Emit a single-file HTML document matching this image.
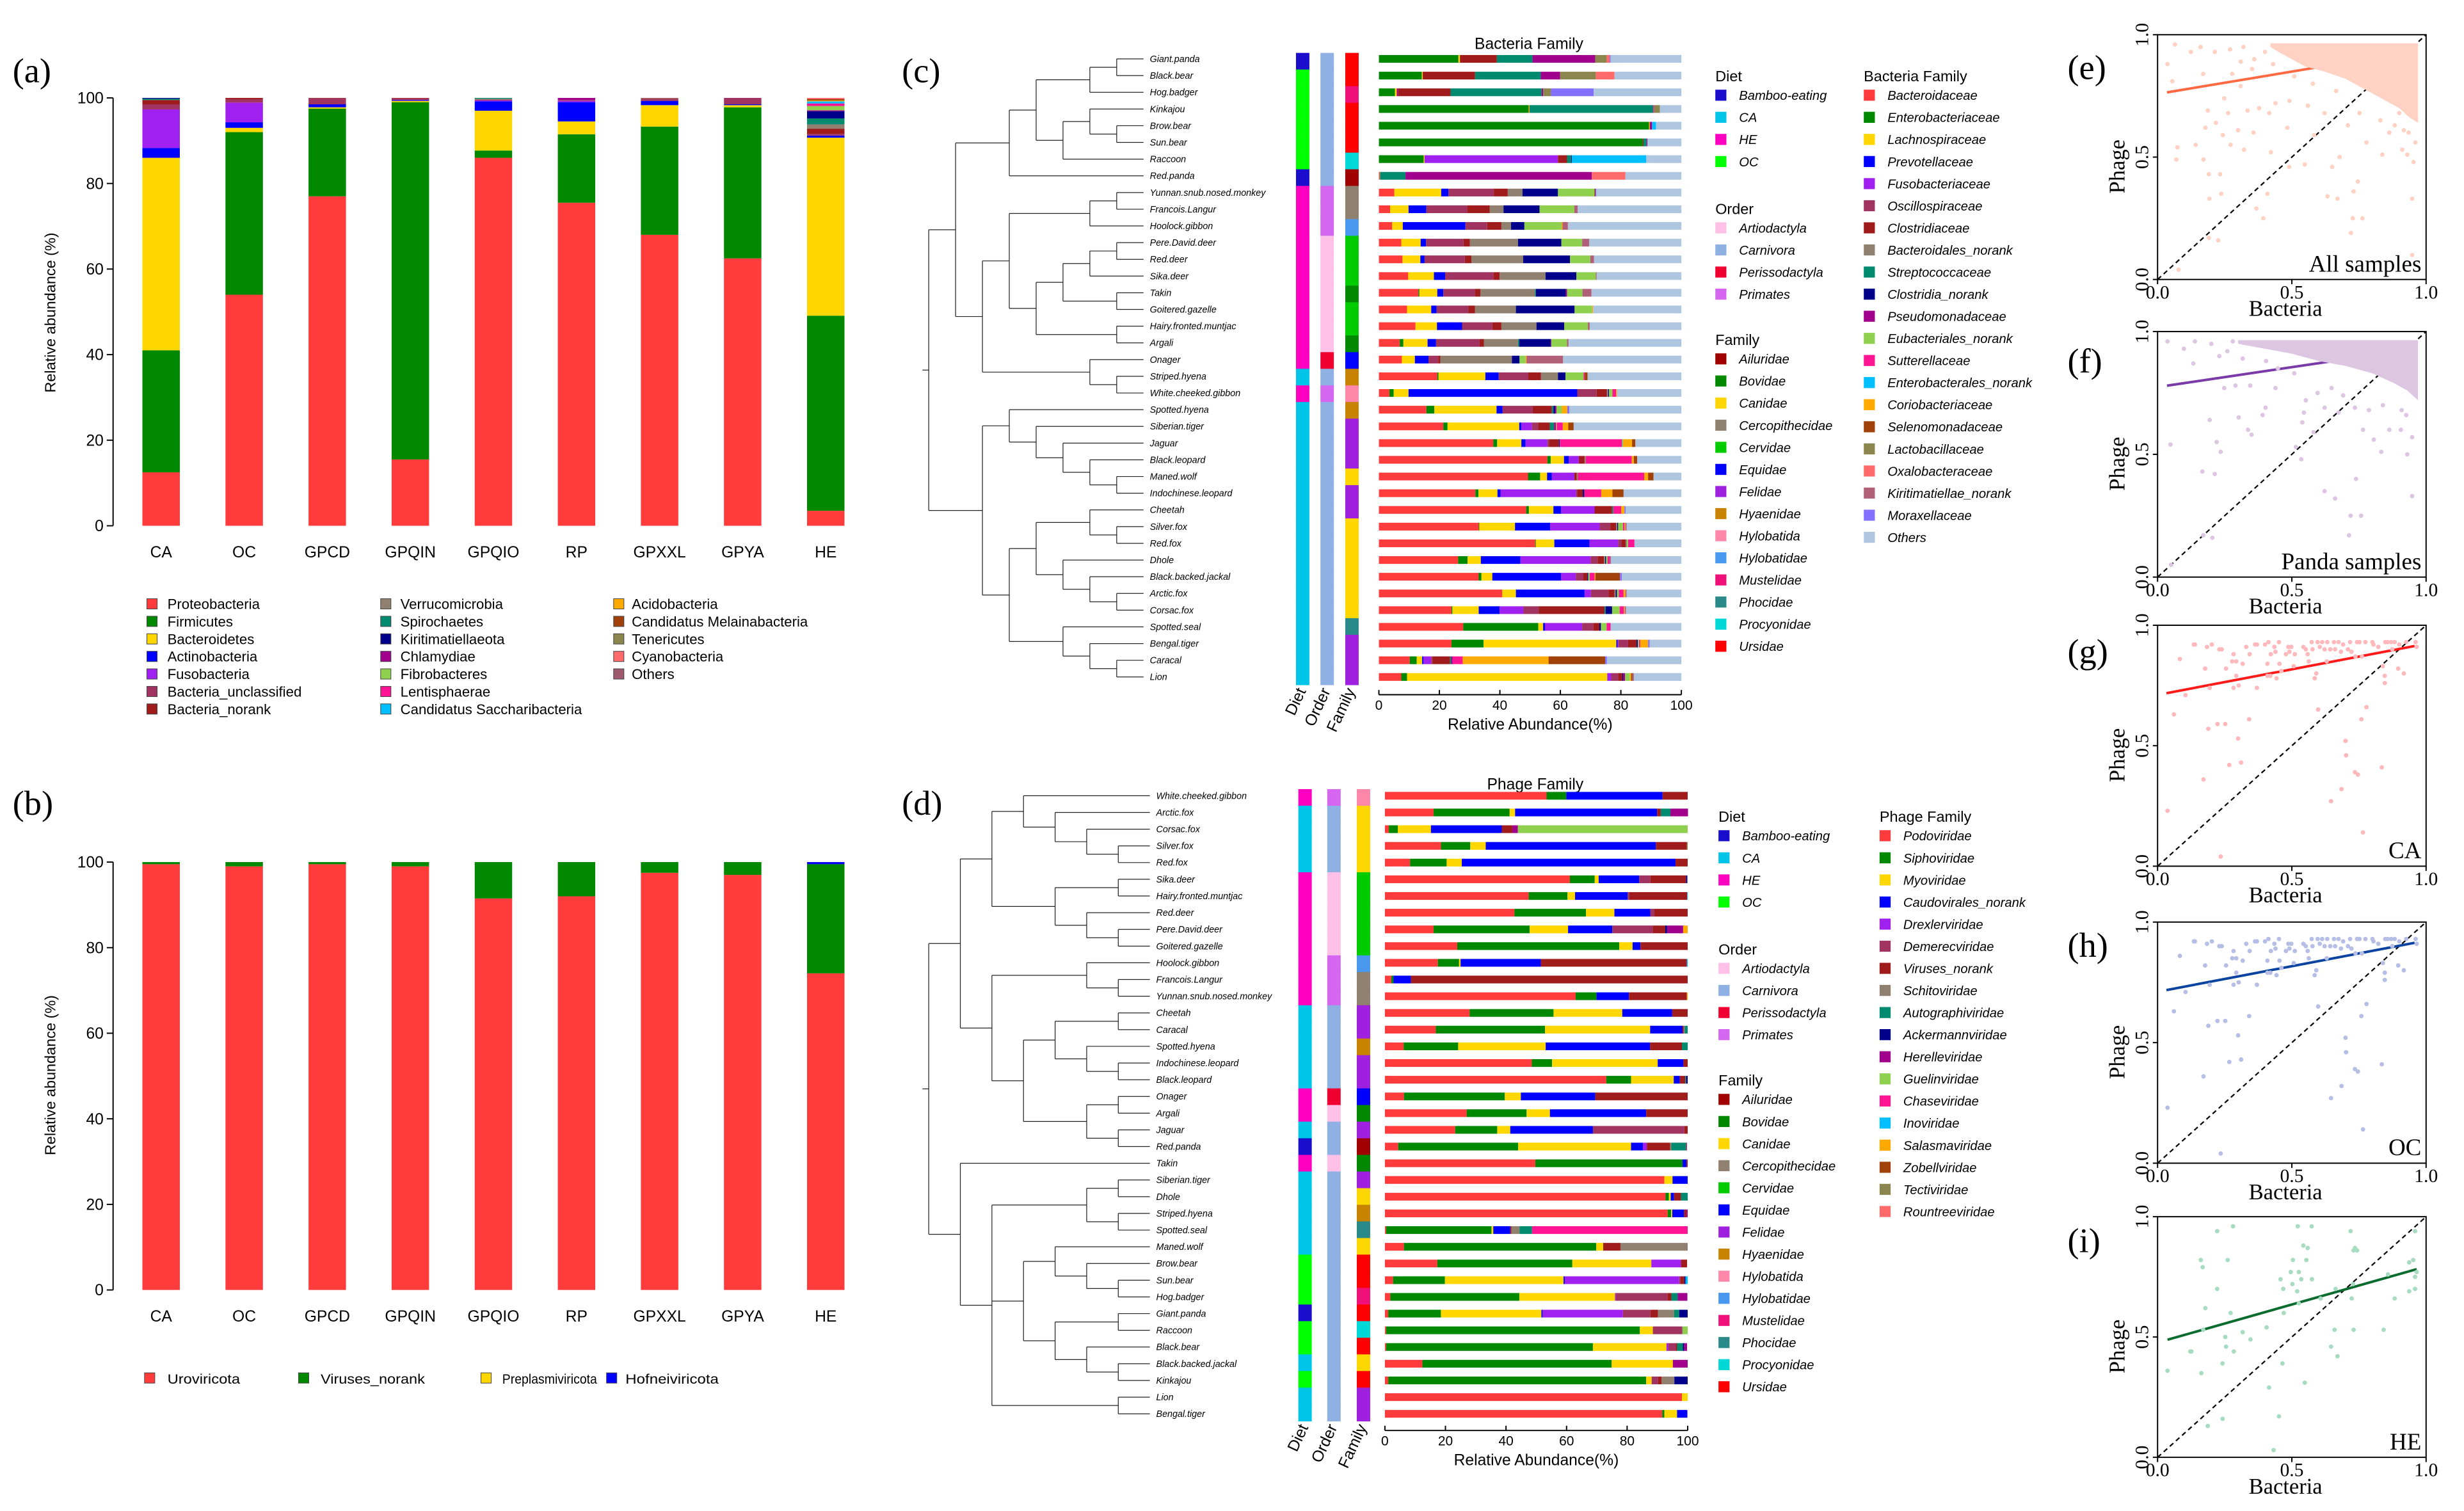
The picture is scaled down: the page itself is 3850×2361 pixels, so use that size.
<!DOCTYPE html>
<html><head><meta charset="utf-8"><title>Bacteria and phage composition figure</title>
<style>
html,body{margin:0;padding:0;background:#fff;}
svg{display:block;}
text{font-family:"Liberation Sans",sans-serif;}
.serif{font-family:"Liberation Serif",serif;}
</style></head>
<body>
<svg id="fig" xmlns="http://www.w3.org/2000/svg" width="3850" height="2361" viewBox="0 0 1560 957" preserveAspectRatio="none">
<rect x="0" y="0" width="1560" height="957" fill="#ffffff"/>
<text class="serif" x="8" y="52" font-size="22">(a)</text>
<text class="serif" x="8" y="516" font-size="22">(b)</text>
<text class="serif" x="571" y="52" font-size="22">(c)</text>
<text class="serif" x="571" y="516" font-size="22">(d)</text>
<text class="serif" x="1309" y="50" font-size="22">(e)</text>
<text class="serif" x="1309" y="236" font-size="22">(f)</text>
<text class="serif" x="1309" y="420" font-size="22">(g)</text>
<text class="serif" x="1309" y="606" font-size="22">(h)</text>
<text class="serif" x="1309" y="793" font-size="22">(i)</text>
<text x="968" y="31" font-size="10" text-anchor="middle">Bacteria Family</text>
<text x="972" y="500" font-size="10" text-anchor="middle">Phage Family</text>
<g id="gA"></g>
<g id="gB"></g>
<g id="gC"></g>
<g id="gD"></g>
<g id="gS"></g>
</svg>
<script>
// ---------- Panel (a) data ----------
const groupsA = ["CA","OC","GPCD","GPQIN","GPQIO","RP","GPXXL","GPYA","HE"];
const phylaA = ["Proteobacteria","Firmicutes","Bacteroidetes","Actinobacteria","Fusobacteria","Bacteria_unclassified","Bacteria_norank","Verrucomicrobia","Spirochaetes","Kiritimatiellaeota","Chlamydiae","Fibrobacteres","Lentisphaerae","Candidatus Saccharibacteria","Acidobacteria","Candidatus Melainabacteria","Tenericutes","Cyanobacteria","Others"];
const phylaColors = ["#ff3b3b","#008800","#ffd700","#0000ff","#a020f0","#a0335f","#a01c1c","#908070","#008b70","#00008b","#a0008b","#8fd14f","#ff1493","#00bfff","#ffaa00","#a0410a","#8b864e","#ff6a6a","#a05a70"];
const abundCA    = [12.5,28.5,45,2.3,9,1.2,1,0,0.3,0.2,0,0,0,0,0,0,0,0,0];
const abundOC    = [54,38,1,1.3,4.6,0.8,0.3,0,0,0,0,0,0,0,0,0,0,0,0];
const abundGPCD  = [77,20.5,0.3,0.7,0,1.4,0.1,0,0,0,0,0,0,0,0,0,0,0,0];
const abundGPQIN = [15.5,83.5,0.3,0.2,0,0.4,0.1,0,0,0,0,0,0,0,0,0,0,0,0];
const abundGPQIO = [86,1.7,9.3,2.2,0.2,0.2,0,0.2,0.2,0,0,0,0,0,0,0,0,0,0];
const abundRP    = [75.5,16,3,4.5,0.3,0.2,0,0,0,0,0.5,0,0,0,0,0,0,0,0];
const abundGPXXL = [68,25.3,5,1,0,0.4,0.1,0,0,0,0,0,0,0,0,0,0,0,0.2];
const abundGPYA  = [62.5,35.3,0.5,0.2,0,1.5,0,0,0,0,0,0,0,0,0,0,0,0,0];
const abundHE    = [3.5,45.6,41.6,0.5,0,0.4,1.2,1,1.4,1.7,0.2,1,0.6,0.5,0.2,0.3,0,0.3,0];
const abundA = [abundCA,abundOC,abundGPCD,abundGPQIN,abundGPQIO,abundRP,abundGPXXL,abundGPYA,abundHE];
const ticksAB = [0,20,40,60,80,100];

// ---------- Panel (b) data ----------
const viralPhyla = ["Uroviricota","Viruses_norank","Preplasmiviricota","Hofneiviricota"];
const viralColors = ["#ff3b3b","#008800","#ffd700","#0000ff"];
const uroviricota = [99.5,99,99.5,99,91.5,92,97.5,97,74];
const virusesNorank = [0.5,1,0.5,1,8.5,8,2.5,3,25.5];
const preplasmiviricota = [0,0,0,0,0,0,0,0,0];
const hofneiviricota = [0,0,0,0,0,0,0,0,0.5];

// ---------- Panel (c) data ----------
const speciesC = ["Giant.panda","Black.bear","Hog.badger","Kinkajou","Brow.bear","Sun.bear","Raccoon","Red.panda","Yunnan.snub.nosed.monkey","Francois.Langur","Hoolock.gibbon","Pere.David.deer","Red.deer","Sika.deer","Takin","Goitered.gazelle","Hairy.fronted.muntjac","Argali","Onager","Striped.hyena","White.cheeked.gibbon","Spotted.hyena","Siberian.tiger","Jaguar","Black.leopard","Maned.wolf","Indochinese.leopard","Cheetah","Silver.fox","Red.fox","Dhole","Black.backed.jackal","Arctic.fox","Corsac.fox","Spotted.seal","Bengal.tiger","Caracal","Lion"];
const bactFamilies = ["Bacteroidaceae","Enterobacteriaceae","Lachnospiraceae","Prevotellaceae","Fusobacteriaceae","Oscillospiraceae","Clostridiaceae","Bacteroidales_norank","Streptococcaceae","Clostridia_norank","Pseudomonadaceae","Eubacteriales_norank","Sutterellaceae","Enterobacterales_norank","Coriobacteriaceae","Selenomonadaceae","Lactobacillaceae","Oxalobacteraceae","Kiritimatiellae_norank","Moraxellaceae","Others"];
const bactColors = ["#ff3b3b","#008800","#ffd700","#0000ff","#a020f0","#a0335f","#a01c1c","#908070","#008b70","#00008b","#a0008b","#8fd14f","#ff1493","#00bfff","#ffaa00","#a0410a","#8b864e","#ff6a6a","#b06078","#8470ff","#aec6e0"];
const bactRows = [
[[1,26.3],[2,.5],[6,12.2],[8,11.8],[10,20.7],[16,3.8],[17,1],[19,.3]],
[[1,14.2],[2,.3],[6,17.3],[8,21.7],[10,6.4],[16,11.8],[17,6.2]],
[[1,5.3],[2,.6],[10,.5],[6,17.3],[8,30.1],[10,.5],[16,2.6],[19,14.1]],
[[1,49.5],[14,.3],[8,40.9],[12,.3],[16,1.9]],
[[1,89.3],[14,.3],[10,.7],[13,1.3]],
[[1,87.2],[6,.3],[8,1],[10,.3]],
[[1,14.8],[2,.3],[4,44.1],[6,3],[8,1.4],[9,.2],[13,24.6]],
[[0,.2],[16,.3],[8,8.3],[10,61.6],[17,11.1]],
[[0,5.1],[2,15.5],[3,2.4],[5,15],[6,4.6],[7,4.9],[9,11.7],[11,12.1],[6,.3],[19,.3]],
[[0,3.7],[2,6.1],[3,5.9],[5,13.6],[6,7.3],[7,4.6],[9,11.9],[11,11.5],[18,1.1]],
[[0,4.4],[2,3.5],[3,20.7],[5,7.2],[6,4.7],[7,3.2],[9,4.4],[11,12.3],[14,.3],[18,1.8]],
[[0,7.4],[2,6.4],[3,1.8],[5,12.4],[6,2.1],[7,15.9],[9,14.3],[11,6.9],[18,2.3]],
[[0,7.8],[2,5.9],[3,1.4],[5,13.3],[6,2.2],[7,17.1],[9,15.5],[11,6.7],[18,1.2]],
[[0,9.7],[2,8.5],[3,3.7],[5,16],[6,2],[7,15.2],[9,10.2],[11,6.4],[18,.3]],
[[0,13.1],[1,.3],[2,5.9],[3,2],[5,10.4],[6,1.9],[7,18],[8,.3],[9,9.9],[10,.4],[11,5.1],[18,3]],
[[0,9.3],[2,8],[3,1.8],[5,10.5],[6,2.2],[7,13.5],[9,19.4],[11,5.8],[14,.3]],
[[0,12.1],[2,7.1],[3,8.3],[5,10],[6,3],[7,11.6],[9,9.2],[11,7.8],[18,.6]],
[[0,6.9],[1,1.2],[2,8],[3,2.8],[5,14.4],[6,1.4],[7,11.3],[8,.4],[9,10.4],[10,.2],[11,5.2],[18,.5]],
[[0,7.6],[2,4.3],[3,4.5],[5,3.2],[6,.7],[7,23.7],[9,2.5],[11,2],[14,.3],[18,12.1]],
[[0,19.3],[1,.4],[2,15.5],[3,4.4],[5,9.8],[6,4.2],[7,5.6],[9,2.5],[11,6],[12,.4],[15,.9]],
[[0,3.5],[1,1.4],[2,4.9],[3,55.8],[5,6.4],[6,3.4],[7,.4],[9,.3],[11,1.1],[12,1.2],[14,.3]],
[[0,15.7],[1,2.6],[2,20.6],[3,2],[5,9.9],[6,6.4],[8,.5],[9,.6],[10,.4],[11,1.8],[14,1.8],[19,.7]],
[[0,21.3],[1,1.4],[2,23.7],[3,.7],[4,3.5],[5,2],[6,3.9],[8,1.4],[10,.6],[11,.3],[12,2],[14,1.8],[15,1.8]],
[[0,37.8],[1,1.3],[2,8],[3,1.4],[4,7.2],[5,.6],[6,3.2],[9,.3],[12,20.5],[13,.2],[14,3.2],[15,1.1]],
[[0,55.7],[1,1.1],[2,4.4],[3,1.6],[4,3.3],[6,1.9],[7,.4],[12,15.2],[14,.7],[15,1.1]],
[[0,49.3],[1,4],[2,2.3],[3,1.6],[4,7.4],[6,.8],[7,.4],[12,21.9],[14,1.3],[15,1.8]],
[[0,31.9],[1,1],[2,6.3],[3,1],[4,25],[5,.4],[6,1.8],[9,.5],[12,5.6],[14,3.7],[15,3.7]],
[[0,48.7],[1,.9],[2,8.1],[3,2.5],[4,11.1],[6,5.8],[8,.4],[12,2.6],[14,1.1],[19,.4]],
[[0,33],[1,.2],[2,11.8],[3,11.6],[4,16.4],[5,3.5],[6,1.9],[7,.4],[9,.3],[11,1.6],[12,.5],[14,.3],[18,.4]],
[[0,51.7],[1,.2],[2,6.1],[3,11.6],[4,9.5],[5,1.1],[6,1.4],[7,.4],[11,.4],[12,2.1]],
[[0,26.2],[1,3.1],[2,4.4],[3,13.1],[4,23.2],[5,2.3],[6,2.1],[7,.4],[9,.3],[11,.5],[12,.7],[18,.4]],
[[0,33],[1,.9],[2,3.6],[3,22.7],[4,4.9],[5,2.5],[6,1.3],[9,.3],[11,.5],[12,1.6],[14,.3],[15,8.1],[19,.6]],
[[0,40.8],[2,4.5],[3,22.7],[4,2.1],[5,5.8],[6,2],[7,.4],[9,.4],[11,.6],[12,1.6],[14,.6],[18,.4]],
[[0,24],[1,.3],[2,8.7],[3,6.9],[4,7.9],[5,5.1],[6,21.7],[8,.4],[9,2.1],[11,2.5],[12,1.4],[14,.3],[18,.4]],
[[0,27.9],[1,24.8],[2,1.6],[3,.6],[4,12.3],[5,3.7],[6,2],[9,.5],[11,1.9],[12,1.3]],
[[0,24],[1,10.6],[2,43.9],[3,.4],[4,.3],[5,3.2],[6,2.8],[9,.4],[11,.4],[12,.4],[14,2.6],[19,.5]],
[[0,10.2],[1,2.3],[2,1.8],[3,.4],[4,2.6],[5,.4],[6,5.8],[8,.4],[10,.5],[12,3.3],[14,28.4],[15,18.7],[19,.6]],
[[0,7.4],[1,1.9],[2,66.2],[4,1.3],[5,2.3],[6,1.4],[9,.3],[10,.6],[11,1.6],[14,.4],[15,.4],[18,.5]]
];
const dietC   = [0,3,3,3,3,3,3,0,2,2,2,2,2,2,2,2,2,2,2,1,2,1,1,1,1,1,1,1,1,1,1,1,1,1,1,1,1,1];
const orderC  = [1,1,1,1,1,1,1,1,3,3,3,0,0,0,0,0,0,0,2,1,3,1,1,1,1,1,1,1,1,1,1,1,1,1,1,1,1,1];
const familyC = [13,13,10,13,13,13,12,0,3,3,9,4,4,4,1,4,4,1,5,7,8,7,6,6,6,2,6,6,2,2,2,2,2,2,11,6,6,6];
const treeC = [[[[[[0,1],2],[[3,[4,5]],6]],7],[[[[8,9],10],[[[[11,12],13],[14,15]],[16,17]]],[18,[19,20]]]],[[21,[22,[23,[24,[25,26]]]]],[[[27,[28,29]],[30,[31,[32,33]]]],[34,[35,[36,37]]]]]];

// ---------- Panel (d) data ----------
const speciesD = ["White.cheeked.gibbon","Arctic.fox","Corsac.fox","Silver.fox","Red.fox","Sika.deer","Hairy.fronted.muntjac","Red.deer","Pere.David.deer","Goitered.gazelle","Hoolock.gibbon","Francois.Langur","Yunnan.snub.nosed.monkey","Cheetah","Caracal","Spotted.hyena","Indochinese.leopard","Black.leopard","Onager","Argali","Jaguar","Red.panda","Takin","Siberian.tiger","Dhole","Striped.hyena","Spotted.seal","Maned.wolf","Brow.bear","Sun.bear","Hog.badger","Giant.panda","Raccoon","Black.bear","Black.backed.jackal","Kinkajou","Lion","Bengal.tiger"];
const phageFamilies = ["Podoviridae","Siphoviridae","Myoviridae","Caudovirales_norank","Drexlerviridae","Demerecviridae","Viruses_norank","Schitoviridae","Autographiviridae","Ackermannviridae","Herelleviridae","Guelinviridae","Chaseviridae","Inoviridae","Salasmaviridae","Zobellviridae","Tectiviridae","Rountreeviridae"];
const phageColors = ["#ff3b3b","#008800","#ffd700","#0000ff","#a020f0","#a0335f","#a01c1c","#908070","#008b70","#00008b","#a0008b","#8fd14f","#ff1493","#00bfff","#ffaa00","#a0410a","#8b864e","#ff6a6a"];
const phageRows = [
[[0,53.4],[1,6.5],[3,31.8],[6,8.3]],
[[0,16.1],[1,25.1],[2,1.8],[3,46.9],[6,1.2],[8,3.2],[10,5.8]],
[[0,1.3],[1,3],[2,10.9],[3,23.4],[6,3.5],[10,1.8],[11,56.1]],
[[0,18.5],[1,9.7],[2,5.1],[3,56.2],[6,10.2],[16,.3]],
[[0,8.3],[1,12.1],[2,5],[3,70.6],[6,4]],
[[0,61.1],[1,8.2],[2,1.3],[3,13.4],[5,3.7],[6,11.8],[9,.4]],
[[0,47.5],[1,12.8],[2,2.5],[3,17.4],[5,.4],[6,19.2],[13,.2]],
[[0,42.8],[1,23.6],[2,9.4],[3,11.9],[5,1.3],[6,11]],
[[0,16.1],[1,31.7],[2,12.7],[3,14.6],[5,13.4],[6,4.1],[9,.6],[10,5.3],[14,1.5]],
[[0,23.9],[1,53.5],[2,4.4],[3,2.6],[6,15.6]],
[[0,17.5],[1,7],[2,.5],[3,26.5],[6,48.2],[13,.3]],
[[0,2.1],[1,.7],[3,5.8],[6,91.4]],
[[0,63],[1,6.9],[3,10.7],[6,19.1],[14,.3]],
[[0,28],[1,27.7],[2,22.7],[3,16.5],[6,5.1]],
[[0,16.8],[1,36.1],[2,34.7],[3,10.7],[6,.4],[7,.3],[8,1]],
[[0,6.2],[1,18],[2,28.9],[3,34.5],[6,10.5],[8,1.9]],
[[0,48.5],[1,6.7],[2,34.9],[3,8.5],[6,1.4]],
[[0,73.1],[1,8.2],[2,14.1],[3,2],[6,1.8],[8,.3],[9,.5]],
[[0,6.3],[1,33.3],[2,5.3],[3,24.6],[6,30.5]],
[[0,27],[1,19.8],[2,7.7],[3,31.8],[6,13.7]],
[[0,23.2],[1,13.9],[2,4.3],[3,27.3],[5,30.2],[6,1.1]],
[[0,4.4],[1,39.6],[2,37.3],[3,3.9],[4,1.3],[6,7.7],[7,.4],[8,4.9],[5,.3]],
[[0,49.7],[1,48.6],[3,1.3],[6,.4]],
[[0,92.3],[2,2.7],[3,5]],
[[0,92.7],[1,1.1],[2,.6],[3,1.1],[6,2.3],[8,2.2]],
[[0,93.4],[1,1.1],[2,.4],[3,3.9],[6,.8],[10,.4]],
[[0,.4],[1,34.8],[2,.6],[3,5.6],[6,.4],[7,2.7],[8,4.1],[12,51.4]],
[[0,6.3],[1,63.5],[2,2.3],[6,5.7],[7,22.2]],
[[0,17.3],[1,44.6],[2,26.1],[4,9.8],[6,2]],
[[0,2.7],[1,17.1],[2,39.2],[3,.4],[4,37.8],[5,.4],[6,1.3],[9,.4],[13,.7]],
[[0,1.8],[1,42.6],[2,31.6],[4,.3],[5,17],[6,1.3],[8,2.1],[10,3.2]],
[[0,1.1],[1,17.4],[2,33.2],[3,.4],[4,26.5],[5,9.1],[6,2.5],[7,5.3],[8,1.7],[9,2.8]],
[[0,.4],[1,83.8],[2,4.3],[5,9.6],[7,.3],[11,1.6]],
[[0,.4],[1,68.3],[2,24.3],[4,.6],[5,2.5],[6,.4],[8,1.9],[9,.4],[10,1]],
[[0,12.4],[1,62.5],[2,20.2],[10,4.9]],
[[0,1.1],[1,85.2],[2,1.8],[5,2.1],[6,1.2],[7,4.2],[9,4.4]],
[[0,98.1],[2,1.9]],
[[0,91.6],[1,.7],[2,4.2],[3,3.4]]
];
const dietD   = [2,1,1,1,1,2,2,2,2,2,2,2,2,1,1,1,1,1,2,2,1,0,2,1,1,1,1,1,3,3,3,0,3,3,1,3,1,1];
const orderD  = [3,1,1,1,1,0,0,0,0,0,3,3,3,1,1,1,1,1,2,0,1,1,0,1,1,1,1,1,1,1,1,1,1,1,1,1,1,1];
const familyD = [8,2,2,2,2,4,4,4,4,4,9,3,3,6,6,7,6,6,5,1,6,0,1,6,2,7,11,2,13,13,10,13,12,13,2,13,6,6];
const treeD = [[[[0,[1,[2,[3,4]]]],[[5,6],[7,[8,9]]]],[[10,[11,12]],[[[13,14],[15,[16,17]]],[[18,19],[20,21]]]]],[22,[[[23,24],[25,26]],[[27,[28,[29,30]]],[[31,32],[33,[34,35]]]],[36,37]]]];

// ---------- shared metadata legends ----------
const dietNames = ["Bamboo-eating","CA","HE","OC"];
const dietColors = ["#1a0dcc","#00c4e8","#ff00c0","#00ff00"];
const orderNames = ["Artiodactyla","Carnivora","Perissodactyla","Primates"];
const orderColors = ["#ffc0e8","#8fb0e3","#f00030","#d466f0"];
const hostFamilies = ["Ailuridae","Bovidae","Canidae","Cercopithecidae","Cervidae","Equidae","Felidae","Hyaenidae","Hylobatida","Hylobatidae","Mustelidae","Phocidae","Procyonidae","Ursidae"];
const hostColors = ["#a00000","#008800","#ffd700","#908070","#00cc00","#0000ff","#a020e0","#c88400","#ff88aa","#4898f0","#f0107a","#2a8a8a","#00d8d8","#ff0000"];
const ticksCD = [0,20,40,60,80,100];

// ---------- scatter data (bacteria, phage) ----------
const ePoints = [[.037,.88],[.065,.96],[.055,.81],[.124,.93],[.074,.54],[.07,.49],[.142,.55],[.178,.62],[.187,.69],[.217,.64],[.171,.49],[.191,.43],[.233,.43],[.237,.35],[.193,.33],[.191,.17],[.226,.16],[.078,.04],[.243,.59],[.272,.55],[.263,.68],[.3,.61],[.322,.53],[.335,.69],[.357,.6],[.368,.29],[.394,.25],[.409,.35],[.422,.52],[.416,.68],[.483,.62],[.49,.46],[.548,.47],[.583,.59],[.633,.34],[.65,.46],[.67,.33],[.678,.5],[.72,.19],[.727,.25],[.763,.25],[.746,.4],[.73,.36],[.837,.51],[.911,.53],[.93,.51],[.948,.33],[.948,.1],[.953,.48],[.96,.56],[.917,.61],[.863,.6],[.778,.56],[.709,.63],[.622,.68],[.56,.71],[.491,.73],[.439,.72],[.378,.7],[.309,.79],[.248,.74],[.278,.84],[.352,.86],[.17,.84],[.213,.93],[.27,.94],[.4,.93],[.509,.83],[.578,.8],[.665,.77],[.752,.68],[.83,.65],[.883,.63],[.935,.6],[.9,.68],[.16,.95],[.32,.95],[.36,.9],[.43,.88],[.31,.89]];
const eDense = [[.42,.965],[.97,.965],[.97,.64],[.94,.66],[.9,.7],[.85,.73],[.8,.76],[.75,.79],[.7,.82],[.62,.85],[.55,.87],[.5,.9],[.45,.93],[.42,.95]];
const fPoints = [[.037,.96],[.048,.54],[.098,.93],[.139,.96],[.133,.87],[.167,.43],[.194,.64],[.213,.42],[.22,.55],[.235,.51],[.248,.77],[.29,.78],[.302,.65],[.337,.6],[.35,.58],[.345,.78],[.391,.66],[.402,.69],[.439,.77],[.515,.53],[.535,.48],[.539,.63],[.545,.67],[.581,.59],[.622,.35],[.661,.32],[.713,.17],[.719,.25],[.739,.4],[.758,.25],[.765,.6],[.805,.56],[.833,.51],[.863,.6],[.906,.6],[.93,.5],[.948,.33],[.948,.57],[.05,.05],[.17,.17],[.204,.16],[.552,.72],[.596,.75],[.648,.77],[.691,.74],[.735,.69],[.787,.68],[.839,.7],[.909,.68],[.926,.66],[.674,.67],[.622,.69],[.404,.88],[.317,.89],[.23,.9],[.448,.85],[.509,.83],[.2,.95],[.26,.92],[.28,.96]];
const fDense = [[.3,.965],[.97,.965],[.97,.72],[.93,.76],[.88,.79],[.8,.83],[.7,.86],[.6,.88],[.5,.91],[.4,.93],[.3,.95]];
const gPoints = [[.037,.23],[.061,.63],[.083,.86],[.104,.71],[.135,.92],[.139,.92],[.171,.36],[.177,.82],[.184,.91],[.189,.57],[.194,.74],[.202,.92],[.223,.59],[.23,.9],[.235,.04],[.239,.9],[.252,.59],[.255,.82],[.267,.42],[.278,.85],[.283,.88],[.283,.74],[.293,.85],[.293,.79],[.3,.53],[.302,.75],[.311,.43],[.317,.84],[.33,.91],[.341,.61],[.343,.88],[.363,.92],[.37,.92],[.37,.74],[.4,.92],[.409,.84],[.409,.79],[.413,.93],[.42,.79],[.422,.88],[.435,.91],[.439,.89],[.443,.78],[.452,.93],[.454,.84],[.461,.81],[.478,.88],[.487,.91],[.491,.89],[.498,.91],[.507,.83],[.511,.88],[.543,.91],[.552,.9],[.559,.88],[.563,.85],[.574,.93],[.577,.9],[.585,.78],[.591,.8],[.596,.93],[.598,.65],[.604,.91],[.613,.93],[.622,.9],[.63,.85],[.632,.93],[.643,.9],[.646,.27],[.657,.93],[.661,.9],[.674,.93],[.683,.89],[.685,.32],[.691,.92],[.7,.52],[.702,.46],[.709,.9],[.717,.93],[.722,.89],[.735,.39],[.737,.87],[.743,.93],[.746,.38],[.752,.93],[.759,.61],[.761,.87],[.765,.14],[.774,.93],[.778,.66],[.8,.93],[.804,.92],[.822,.91],[.835,.41],[.839,.83],[.846,.79],[.846,.76],[.848,.93],[.857,.93],[.87,.93],[.874,.9],[.883,.93],[.896,.82],[.9,.92],[.917,.8],[.926,.93],[.961,.93],[.965,.91]];
const hPoints = gPoints.map(p => p.slice());
const iPoints = [[.037,.36],[.122,.44],[.126,.44],[.161,.82],[.163,.35],[.168,.79],[.17,.53],[.178,.62],[.187,.13],[.222,.94],[.222,.7],[.242,.39],[.242,.16],[.252,.5],[.255,.46],[.261,.82],[.272,.6],[.281,.96],[.284,.44],[.317,.52],[.346,.49],[.406,.54],[.415,.29],[.432,.03],[.452,.17],[.458,.74],[.465,.39],[.468,.7],[.47,.6],[.496,.77],[.502,.72],[.504,.82],[.52,.69],[.522,.96],[.526,.77],[.526,.64],[.535,.74],[.543,.88],[.548,.31],[.554,.82],[.559,.87],[.574,.96],[.575,.74],[.607,.66],[.646,.46],[.659,.53],[.663,.7],[.67,.42],[.719,.94],[.723,.66],[.728,.72],[.73,.53],[.73,.86],[.735,.87],[.743,.86],[.842,.53],[.858,.76],[.883,.66],[.937,.81],[.937,.69],[.952,.82],[.959,.94],[.959,.75],[.959,.7],[.965,.77]];
// regression: [intercept, slope, xStart, xEnd]
const eFit = [0.758,0.183,0.035,0.96];
const fFit = [0.774,0.162,0.035,0.96];
const gFit = [0.711,0.212,0.033,0.957];
const hFit = [0.711,0.212,0.033,0.957];
const iFit = [0.477,0.316,0.037,0.965];
const scatterTicks = [0,0.5,1];

// ---------- helpers ----------
const NS = "http://www.w3.org/2000/svg";
function mk(tag, attrs, parent){
  const e = document.createElementNS(NS, tag);
  for (const k in attrs) e.setAttribute(k, attrs[k]);
  parent.appendChild(e);
  return e;
}
const gA = document.getElementById("gA"), gB = document.getElementById("gB");
const gC = document.getElementById("gC"), gD = document.getElementById("gD"), gS = document.getElementById("gS");

const axisX = 71.6;
function yA(v){ return 333 - v*2.71; }
function yB(v){ return 817 - v*2.71; }
function xGroup(i){ return 102 + i*52.6; }
const barW = 23.7;

function drawYAxis(parent, yf, titleY, prefix){
  const ax = mk("line",{x1:axisX,y1:yf(0),x2:axisX,y2:yf(100),stroke:"#000","stroke-width":0.8},parent);
  
  
  ticksAB.forEach(t=>{
    const tk = mk("line",{x1:axisX-4,y1:yf(t),x2:axisX,y2:yf(t),stroke:"#000","stroke-width":0.8},parent);
    
    
    const tl = mk("text",{x:axisX-6,y:yf(t)+3.5,"font-size":10,"text-anchor":"end"},parent);
    tl.textContent = t;
    
    
  });
  const tt = mk("text",{x:0,y:0,"font-size":9.5,"text-anchor":"middle",transform:"translate(35,"+titleY+") rotate(-90)"},parent);
  tt.textContent = "Relative abundance (%)";
  
  
  groupsA.forEach((g,i)=>{
    const xl = mk("text",{x:xGroup(i),y:yf(0)+20,"font-size":10,"text-anchor":"middle"},parent);
    xl.textContent = g;
    
    
  });
}

// Panel (a)
drawYAxis(gA, yA, 198, "panel-a");
abundA.forEach((vals,gi)=>{
  let cum = 0;
  vals.forEach((v,pi)=>{
    if (v<=0) return;
    const top = Math.min(cum+v,100);
    const r = mk("rect",{x:xGroup(gi)-barW/2,y:yA(top),width:barW,height:yA(cum)-yA(top),fill:phylaColors[pi]},gA);
    
    
    cum = top;
  });
});
const legColX = [[93,106],[241,253.5],[388.5,400]];
const legendAItems = [[0,1,2,3,4,5,6],[7,8,9,10,11,12,13],[14,15,16,17,18]];
legendAItems.forEach((col,ci)=>{
  col.forEach((pi,ri)=>{
    const y = 382.5 + ri*11.1;
    const sq = mk("rect",{x:legColX[ci][0],y:y-3.3,width:6.5,height:6.5,fill:phylaColors[pi],stroke:"#444","stroke-width":0.4},gA);
    
    
    const tx = mk("text",{x:legColX[ci][1],y:y+3.2,"font-size":9},gA);
    tx.textContent = phylaA[pi];
    
    
  });
});

// Panel (b)
drawYAxis(gB, yB, 681, "panel-b");
const viralSeries = [uroviricota, virusesNorank, preplasmiviricota, hofneiviricota];
groupsA.forEach((g,gi)=>{
  let cum = 0;
  viralSeries.forEach((series,si)=>{
    const v = series[gi];
    if (v<=0) return;
    const top = Math.min(cum+v,100);
    const r = mk("rect",{x:xGroup(gi)-barW/2,y:yB(top),width:barW,height:yB(cum)-yB(top),fill:viralColors[si]},gB);
    
    
    cum = top;
  });
});
const legBX = [[91.5,106,46],[189,203,66],[304.5,318,60],[384,396,59]];
viralPhyla.forEach((n,i)=>{
  const sq = mk("rect",{x:legBX[i][0],y:869.5,width:6.5,height:6.5,fill:viralColors[i],stroke:"#444","stroke-width":0.4},gB);
  
  
  const tx = mk("text",{x:legBX[i][1],y:876.3,"font-size":8.8,textLength:legBX[i][2],lengthAdjust:"spacingAndGlyphs"},gB);
  tx.textContent = n;
  
  
});

// ---------- Panels (c)/(d) ----------
function drawComposition(parent, cfg){
  const rowY = i => cfg.rowY0 + i*cfg.rowStep;
  const xP = p => cfg.x0 + p*(cfg.x100-cfg.x0)/100;
  cfg.rows.forEach((segs,ri)=>{
    let cum = 0;
    segs.forEach(([ci,v])=>{
      const r = mk("rect",{x:xP(cum),y:rowY(ri)-2.45,width:Math.max(xP(cum+v)-xP(cum),0.2),height:4.9,fill:cfg.colors[ci]},parent);
      
      
      cum += v;
    });
    if (cfg.fillOthers && cum < 100){
      const r = mk("rect",{x:xP(cum),y:rowY(ri)-2.45,width:xP(100)-xP(cum),height:4.9,fill:cfg.colors[cfg.colors.length-1]},parent);
      
      
    }
    const lb = mk("text",{x:cfg.labelX,y:rowY(ri)+2,"font-size":5.8,"font-style":"italic"},parent);
    lb.textContent = cfg.species[ri];
    
    
  });
  const colDefs = [[cfg.dietX, cfg.diet, dietColors, "diet"],[cfg.orderX, cfg.order, orderColors, "order"],[cfg.famX, cfg.family, hostColors, "family"]];
  colDefs.forEach(([cx,arr,cols,nm])=>{
    arr.forEach((v,ri)=>{
      const r = mk("rect",{x:cx,y:cfg.colY0+ri*cfg.colStep,width:8.5,height:cfg.colStep+0.3,fill:cols[v]},parent);
      
      
    });
    const t = mk("text",{x:0,y:0,"font-size":10,"text-anchor":"end",transform:"translate("+(cx+6.5)+","+(cfg.colY0+38*cfg.colStep+4)+") rotate(-65)"},parent);
    t.textContent = nm.charAt(0).toUpperCase()+nm.slice(1);
    
    
  });
  const ax = mk("line",{x1:xP(0),y1:cfg.axisY,x2:xP(100),y2:cfg.axisY,stroke:"#000","stroke-width":0.8},parent);
  
  
  ticksCD.forEach(t=>{
    const tk = mk("line",{x1:xP(t),y1:cfg.axisY,x2:xP(t),y2:cfg.axisY-3,stroke:"#000","stroke-width":0.8},parent);
    
    
    const tl = mk("text",{x:xP(t),y:cfg.axisY+9.5,"font-size":8.5,"text-anchor":"middle"},parent);
    tl.textContent = t;
    
    
  });
  const xt = mk("text",{x:(xP(0)+xP(100))/2,y:cfg.axisY+22,"font-size":10,"text-anchor":"middle"},parent);
  xt.textContent = "Relative Abundance(%)";
  
  
  function height(n){ return typeof n==="number" ? 0 : 1+Math.max(...n.map(height)); }
  const rootH = height(cfg.tree);
  const step = (cfg.tipX - cfg.rootX)/rootH;
  function draw(n){
    if (typeof n==="number") return {x:cfg.tipX, y:rowY(n)};
    const h = height(n);
    const x = cfg.tipX - h*step;
    const kids = n.map(draw);
    kids.forEach(k=>{
      const l = mk("line",{x1:x,y1:k.y,x2:k.x,y2:k.y,stroke:"#222","stroke-width":0.5},parent);
      
      
    });
    const ys = kids.map(k=>k.y);
    const v = mk("line",{x1:x,y1:Math.min(...ys),x2:x,y2:Math.max(...ys),stroke:"#222","stroke-width":0.5},parent);
    
    
    return {x:x, y:(Math.min(...ys)+Math.max(...ys))/2};
  }
  const root = draw(cfg.tree);
  const rs = mk("line",{x1:root.x-4,y1:root.y,x2:root.x,y2:root.y,stroke:"#222","stroke-width":0.5},parent);
  
  
  function legendBlock(x, y0, heading, names, cols){
    const h = mk("text",{x:x,y:y0+3.5,"font-size":9.5},parent);
    h.textContent = heading;
    
    
    names.forEach((n,i)=>{
      const y = y0 + 12.3 + i*14;
      const sq = mk("rect",{x:x,y:y-3.5,width:7,height:7,fill:cols[i]},parent);
      
      
      const t = mk("text",{x:x+15,y:y+3,"font-size":8.2,"font-style":"italic"},parent);
      t.textContent = n;
      
      
    });
  }
  legendBlock(cfg.legX, cfg.legY, "Diet", dietNames, dietColors);
  legendBlock(cfg.legX, cfg.legY+84, "Order", orderNames, orderColors);
  legendBlock(cfg.legX, cfg.legY+167, "Family", hostFamilies, hostColors);
  legendBlock(cfg.leg2X, cfg.legY, cfg.famHeading, cfg.families, cfg.colors);
}

drawComposition(gC, {rows:bactRows, species:speciesC, families:bactFamilies, colors:bactColors, fillOthers:true,
  rowY0:37.3, rowStep:10.58, x0:873, x100:1064.5, labelX:728,
  dietX:820.5, orderX:836, famX:851.7, colY0:33.5, colStep:10.53,
  diet:dietC, order:orderC, family:familyC, axisY:440, tree:treeC, tipX:724, rootX:588,
  legX:1086, leg2X:1180, legY:48, famHeading:"Bacteria Family"});

drawComposition(gD, {rows:phageRows, species:speciesD, families:phageFamilies, colors:phageColors, fillOthers:false,
  rowY0:504, rowStep:10.58, x0:876.8, x100:1068.5, labelX:732,
  dietX:822, orderX:840.3, famX:859, colY0:499.8, colStep:10.53,
  diet:dietD, order:orderD, family:familyD, axisY:906, tree:treeD, tipX:728, rootX:588,
  legX:1088, leg2X:1190, legY:517, famHeading:"Phage Family"});

// ---------- Scatter panels ----------
function drawScatter(box, pts, dense, fit, ptColor, lineColor, label, key){
  const g = mk("g",{},gS);
  
  
  const sx = v => box[0] + v*(box[1]-box[0]);
  const sy = v => box[3] - v*(box[3]-box[2]);
  const diag = mk("line",{x1:sx(0),y1:sy(0),x2:sx(1),y2:sy(1),stroke:"#000","stroke-width":0.9,"stroke-dasharray":"3,2.2"},g);
  
  
  const fl = mk("line",{x1:sx(fit[2]),y1:sy(fit[0]+fit[1]*fit[2]),x2:sx(fit[3]),y2:sy(fit[0]+fit[1]*fit[3]),stroke:lineColor,"stroke-width":1.6},g);
  
  
  if (dense){
    const poly = mk("polygon",{points:dense.map(p=>sx(p[0])+","+sy(p[1])).join(" "),fill:ptColor},g);
    
    
  }
  pts.forEach(p=>{
    const c = mk("circle",{cx:sx(p[0]),cy:sy(p[1]),r:1.4,fill:ptColor},g);
    
    
  });
  const frame = mk("rect",{x:box[0],y:box[2],width:box[1]-box[0],height:box[3]-box[2],fill:"none",stroke:"#000","stroke-width":0.8},g);
  
  
  scatterTicks.forEach(t=>{
    const tx = mk("line",{x1:sx(t),y1:box[3],x2:sx(t),y2:box[3]+3,stroke:"#000","stroke-width":0.8},g);
    
    
    const tl = mk("text",{x:sx(t),y:box[3]+12,"font-size":12,"text-anchor":"middle","class":"serif"},g);
    tl.textContent = t.toFixed(1);
    
    
    const ty = mk("line",{x1:box[0]-3,y1:sy(t),x2:box[0],y2:sy(t),stroke:"#000","stroke-width":0.8},g);
    
    
    const yl = mk("text",{x:0,y:0,"font-size":12,"text-anchor":"middle","class":"serif",transform:"translate("+(box[0]-6)+","+sy(t)+") rotate(-90)"},g);
    yl.textContent = t.toFixed(1);
    
    
  });
  const xt = mk("text",{x:(box[0]+box[1])/2-4,y:box[3]+23,"font-size":14,"text-anchor":"middle","class":"serif"},g);
  xt.textContent = "Bacteria";
  
  
  const yt = mk("text",{x:0,y:0,"font-size":14,"text-anchor":"middle","class":"serif",transform:"translate("+(box[0]-21)+","+((box[2]+box[3])/2+6)+") rotate(-90)"},g);
  yt.textContent = "Phage";
  
  
  const lb = mk("text",{x:box[1]-3,y:box[3]-5,"font-size":15,"text-anchor":"end","class":"serif"},g);
  lb.textContent = label;
  
  
}
drawScatter([1366,1536,22,177], ePoints, eDense, eFit, "#ffd2c4", "#ff6a45", "All samples", "e");
drawScatter([1366,1536,210,365.5], fPoints, fDense, fFit, "#dcc6e2", "#7a3aa8", "Panda samples", "f");
drawScatter([1366,1536,396,548.6], gPoints, null, gFit, "#ffb8bb", "#ff1a1a", "CA", "g");
drawScatter([1366,1536,584,736.7], hPoints, null, hFit, "#b6bee6", "#0a44a0", "OC", "h");
drawScatter([1366,1536,770.6,923], iPoints, null, iFit, "#a8dcc2", "#0a6b2e", "HE", "i");
</script>
</body></html>
